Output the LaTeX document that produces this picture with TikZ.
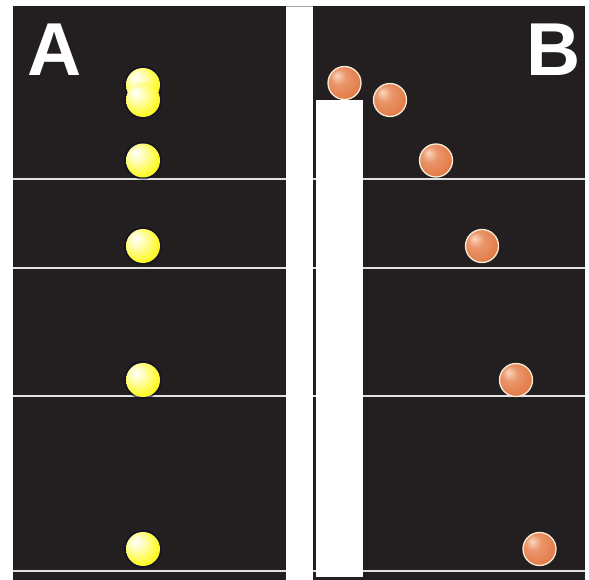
\documentclass[tikz,border=0pt]{standalone}
\usepackage{fontspec}
\setmainfont{Liberation Sans}
\definecolor{panel}{RGB}{35,31,32}
\definecolor{rule}{RGB}{225,225,225}
\definecolor{halo}{RGB}{14,12,38}
\definecolor{cream}{RGB}{250,236,215}
\definecolor{peach}{RGB}{252,214,190}
\definecolor{copper}{RGB}{226,122,70}
\definecolor{rust}{RGB}{170,74,36}
\definecolor{lemon}{RGB}{255,250,40}
\definecolor{deepyellow}{RGB}{244,232,0}
% glossy spheres, light from the upper left
\pgfdeclareradialshading{yellowball}{\pgfpoint{-12bp}{12bp}}{%
  color(0bp)=(white); color(10bp)=(white!70!lemon); color(28bp)=(lemon);
  color(46bp)=(deepyellow); color(50bp)=(deepyellow)}
\pgfdeclareradialshading{copperball}{\pgfpoint{-12bp}{12bp}}{%
  color(0bp)=(peach); color(12bp)=(copper!70!peach); color(30bp)=(copper);
  color(46bp)=(rust); color(50bp)=(rust)}
\tikzset{
  panelbox/.style={fill=panel, draw=none},
  floor/.style={draw=rule, line width=1.4pt},
  ysphere/.style={circle, minimum size=34pt, inner sep=0pt, shading=yellowball},
  csphere/.style={circle, minimum size=33pt, inner sep=0pt, shading=copperball,
    draw=cream, line width=1.3pt},
  glow/.style={fill=halo, opacity=0.6},
  tag/.style={text=white, inner sep=0pt, font=\bfseries\fontsize{75}{75}\selectfont}
}
\begin{document}
\begin{tikzpicture}[x=1pt, y=1pt]
\useasboundingbox (0,0) rectangle (589,580);
\fill[white] (0,0) rectangle (589,580);

% the two dark panels
\fill[panelbox] (12.7,0) rectangle (286,574);
\fill[panelbox] (313,0) rectangle (585,574);
\draw[gray!70, line width=0.6pt] (286,573.6) -- (313,573.6);

% floor levels
\foreach \h in {401,312,184,9} {
  \draw[floor] (12.7,\h) -- (286,\h);
  \draw[floor] (313,\h) -- (585,\h);
}

% the step in panel B
\fill[white] (316,3) rectangle (363,480);

% panel A: balls dropped straight down
\begin{scope}[transparency group, opacity=0.6]
  \foreach \y in {495,480,419.5,334,200,31}
    \fill[halo] (143,\y) circle (19pt);
\end{scope}
\node[ysphere] (a1) at (143,495) {};
\node[ysphere] (a2) at (143,480) {};
\node[ysphere] (a3) at (143,419.5) {};
\node[ysphere] (a4) at (143,334) {};
\node[ysphere] (a5) at (143,200) {};
\node[ysphere] (a6) at (143,31) {};

% panel B: balls rolling off the step
\node[csphere] (b1) at (344.5,497) {};
\node[csphere] (b2) at (390,480) {};
\node[csphere] (b3) at (436,419.5) {};
\node[csphere] (b4) at (482,334) {};
\node[csphere] (b5) at (516,200) {};
\node[csphere] (b6) at (539.5,31) {};

% panel letters
\node[tag, anchor=base] (la) at (54.5,504) {A};
\node[tag, anchor=base] (lb) at (554,504) {B};
\end{tikzpicture}
\end{document}
